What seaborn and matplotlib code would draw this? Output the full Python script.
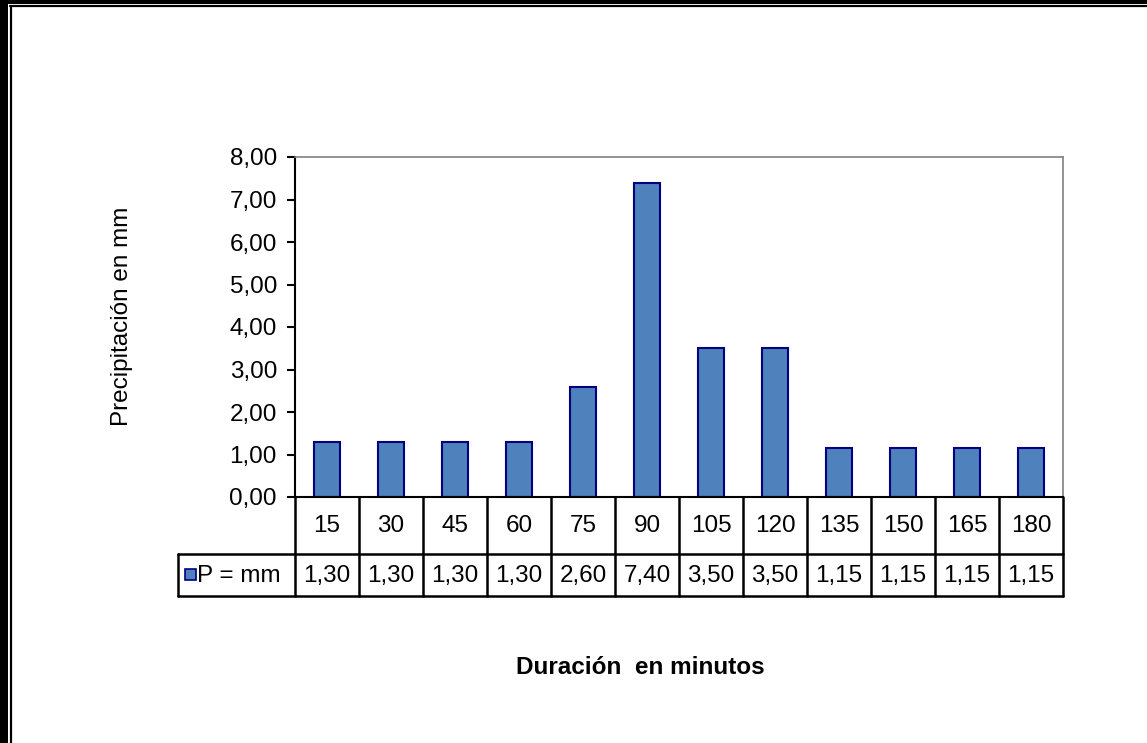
import matplotlib
matplotlib.use("Agg")
import matplotlib.pyplot as plt
import seaborn as sns
import pandas as pd
from matplotlib.patches import Rectangle
from matplotlib.lines import Line2D

categories = ["15", "30", "45", "60", "75", "90", "105", "120", "135", "150", "165", "180"]
values = [1.30, 1.30, 1.30, 1.30, 2.60, 7.40, 3.50, 3.50, 1.15, 1.15, 1.15, 1.15]
value_labels = ["1,30", "1,30", "1,30", "1,30", "2,60", "7,40", "3,50", "3,50", "1,15", "1,15", "1,15", "1,15"]
series_name = "P = mm"
y_ticks = [0, 1, 2, 3, 4, 5, 6, 7, 8]
y_tick_labels = ["0,00", "1,00", "2,00", "3,00", "4,00", "5,00", "6,00", "7,00", "8,00"]

sns.set_style("white")
plt.rcParams['font.family'] = ['Liberation Sans', 'DejaVu Sans']
plt.rcParams['text.color'] = 'black'
plt.rcParams['ytick.color'] = 'black'
plt.rcParams['xtick.color'] = 'black'
FS = 17.5

W, H = 1147, 743
fig = plt.figure(figsize=(W / 100, H / 100), dpi=100)

def fx(px):
    return px / W

def fy(py):
    return 1 - py / H

ax_l, ax_r, ax_t, ax_b = 295, 1063, 157, 497
ax = fig.add_axes([fx(ax_l), fy(ax_b), fx(ax_r) - fx(ax_l), fy(ax_t) - fy(ax_b)])

df = pd.DataFrame({"cat": categories, "val": values})
bar_color = "#4F81BD"
edge_color = "#000080"
sns.barplot(data=df, x="cat", y="val", ax=ax, color=bar_color, width=0.4,
            edgecolor=edge_color, linewidth=1.5, saturation=1)

ax.set_xlim(-0.5, len(categories) - 0.5)
ax.set_ylim(0, 8)
ax.set_yticks(y_ticks)
ax.set_yticklabels(y_tick_labels, fontsize=FS, color="black")
ax.set_xticks([])
ax.set_xlabel("")
ax.set_ylabel("")
ax.tick_params(axis="y", direction="out", length=6, width=1.5, color="black",
               labelcolor="black", pad=7, left=True)
for s in ["left", "bottom"]:
    ax.spines[s].set_color("black")
    ax.spines[s].set_linewidth(1.5)
for s in ["top", "right"]:
    ax.spines[s].set_color("#808080")
    ax.spines[s].set_linewidth(1.2)

# Data table below the axes
row1_bot, row2_bot = 554, 596
legend_left = 178
n = len(categories)
cw = (ax_r - ax_l) / n
lw = 1.8
def hline(x0, x1, y, w=lw):
    fig.add_artist(Line2D([fx(x0), fx(x1)], [fy(y), fy(y)], color="black", lw=w))
def vline(x, y0, y1, w=lw):
    fig.add_artist(Line2D([fx(x), fx(x)], [fy(y0), fy(y1)], color="black", lw=w))

hline(legend_left, ax_r, row1_bot)
hline(legend_left, ax_r, row2_bot)
vline(legend_left, row1_bot, row2_bot)
for i in range(n + 1):
    vline(ax_l + i * cw, ax_b, row2_bot)

for i, (c, v) in enumerate(zip(categories, value_labels)):
    cx = ax_l + (i + 0.5) * cw
    fig.text(fx(cx), fy((ax_b + row1_bot) / 2 + 1), c, ha="center", va="center", fontsize=FS, color="black")
    fig.text(fx(cx), fy((row1_bot + row2_bot) / 2 + 1), v, ha="center", va="center", fontsize=FS, color="black")

# legend key in table
fig.add_artist(Rectangle((fx(185), fy(580)), fx(11), fy(569) - fy(580),
                         facecolor=bar_color, edgecolor=edge_color, lw=1.2))
fig.text(fx(197), fy((row1_bot + row2_bot) / 2 + 1), series_name, ha="left", va="center",
         fontsize=FS, color="black")

# Axis titles
fig.text(fx(640), fy(668), "Duración  en minutos", ha="center", va="center",
         fontsize=FS, fontweight="bold", color="black")
fig.text(fx(122), fy(316), "Precipitación en mm", ha="center", va="center",
         fontsize=FS, rotation=90, color="black")

# Outer frame
fig.add_artist(Rectangle((0, fy(4)), 1, fy(0) - fy(4), facecolor="black", edgecolor="none"))
fig.add_artist(Rectangle((0, 0), fx(8), 1, facecolor="black", edgecolor="none"))
hline(10, W, 6, 1.6)
fig.add_artist(Line2D([fx(11), fx(11)], [fy(6), 0], color="black", lw=1.6))

fig.savefig("out.png", dpi=100)
